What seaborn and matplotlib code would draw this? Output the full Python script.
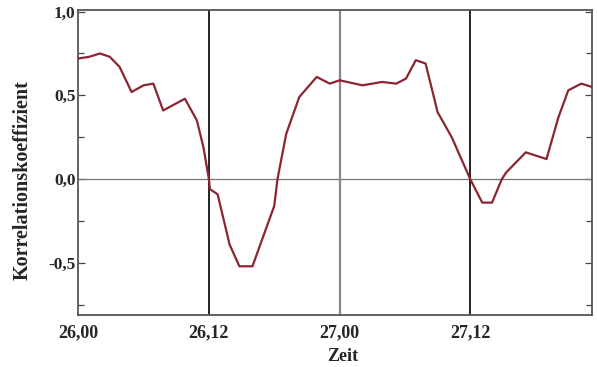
import matplotlib
matplotlib.use("Agg")
import matplotlib.pyplot as plt
import seaborn as sns
import pandas as pd
from matplotlib.ticker import FixedLocator

sns.set_theme(style="ticks")
plt.rcParams['font.family'] = ['Liberation Serif', 'DejaVu Serif']

# hours since 26,00
hours = [0, 1.0, 2.0, 2.9, 3.8, 4.9, 6.0, 6.9, 7.8, 9.8, 10.9, 11.5, 12.0, 12.1,
         12.8, 13.9, 14.8, 16.0, 18.0, 18.3, 19.1, 20.3, 21.9, 23.1, 24.0, 26.1,
         27.9, 29.2, 30.1, 31.0, 31.9, 33.0, 34.3, 36.0, 37.1, 38.0, 38.9, 39.3,
         41.1, 43.0, 44.1, 45.0, 46.2, 47.2]
corr = [0.72, 0.73, 0.75, 0.73, 0.67, 0.52, 0.56, 0.57, 0.41, 0.48, 0.35, 0.19, 0.0, -0.06,
        -0.09, -0.39, -0.52, -0.52, -0.16, 0.0, 0.27, 0.49, 0.61, 0.57, 0.59, 0.56,
        0.58, 0.57, 0.60, 0.71, 0.69, 0.40, 0.25, 0.0, -0.14, -0.14, 0.0, 0.04,
        0.16, 0.12, 0.37, 0.53, 0.57, 0.55]
xtick_pos = [0, 12, 24, 36]
xtick_labels = ["26,00", "26,12", "27,00", "27,12"]
ytick_pos = [-0.5, 0.0, 0.5, 1.0]
ytick_labels = ["-0,5", "0,0", "0,5", "1,0"]

df = pd.DataFrame({"Zeit": hours, "Korrelationskoeffizient": corr})

fig = plt.figure(figsize=(5.97, 3.67), dpi=100)
ax = fig.add_axes([0.131, 0.142, 0.861, 0.831])

ax.axhline(0, color="#777777", lw=0.9, zorder=1)
ax.axvline(12, color="#111111", lw=1.3, zorder=1)
ax.axvline(24, color="#888888", lw=1.6, zorder=1)
ax.axvline(36, color="#111111", lw=1.3, zorder=1)

sns.lineplot(data=df, x="Zeit", y="Korrelationskoeffizient", ax=ax,
             color="#8b2532", lw=1.6, zorder=3)

ax.set_xlim(0, 47.2)
ax.set_ylim(-0.81, 1.01)
ax.set_xticks(xtick_pos)
ax.set_xticklabels(xtick_labels, fontweight="bold", fontsize=13)
ax.set_yticks(ytick_pos)
ax.set_yticklabels(ytick_labels, fontweight="bold", fontsize=12.5)
ax.yaxis.set_minor_locator(FixedLocator([-0.75, -0.25, 0.25, 0.75]))
ax.tick_params(axis="x", length=0, pad=7)
ax.tick_params(axis="y", which="both", direction="in", right=True, length=5,
               width=0.9, color="#444444", pad=2)
ax.tick_params(axis="y", which="minor", length=4)
ax.set_xlabel("Zeit", fontweight="bold", fontsize=13)
ax.set_ylabel("Korrelationskoeffizient", fontweight="bold", fontsize=14.5)
ax.xaxis.set_label_coords(0.514, -0.108)
ax.yaxis.set_label_coords(-0.088, 0.443)
for s in ax.spines.values():
    s.set_color("#555555")
    s.set_linewidth(1.3)
    s.set_visible(True)

fig.savefig("out.png", dpi=100)
